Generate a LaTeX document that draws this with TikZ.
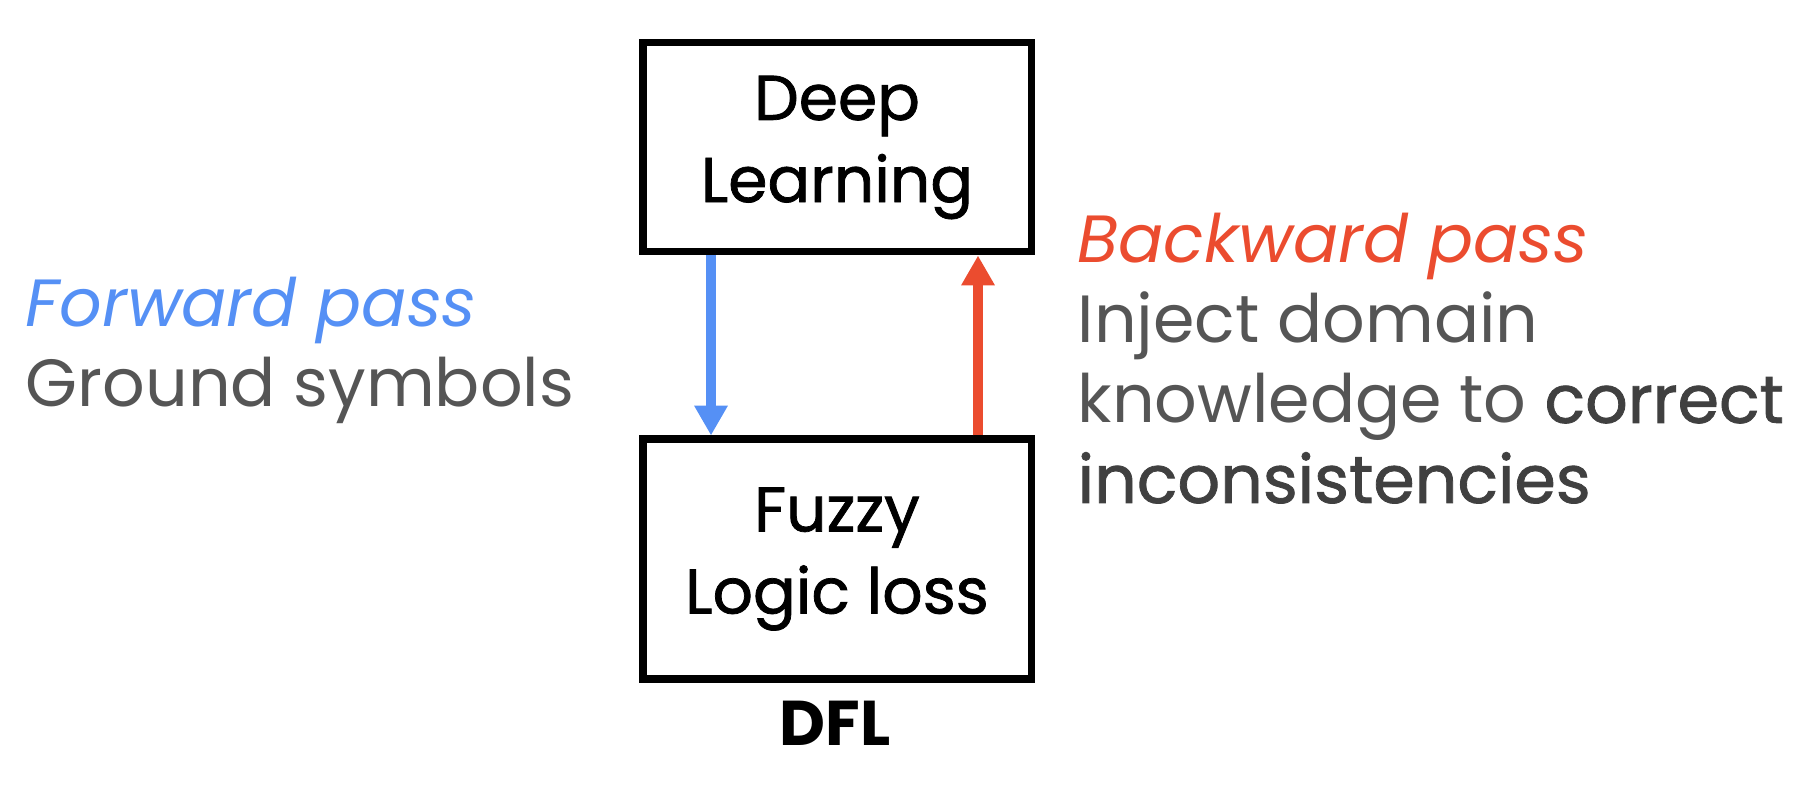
\documentclass[tikz,border=0pt]{standalone}
\usepackage{fontspec}
\setmainfont{Poppins}
\newfontfamily\medfont[FakeBold=1.2]{Poppins}
\usetikzlibrary{arrows.meta}
\definecolor{fwdblue}{HTML}{5590F5}
\definecolor{bwdred}{HTML}{EB4C2F}
\definecolor{txtgray}{HTML}{555555}

\begin{document}
\begin{tikzpicture}[
  block/.style={draw=black, line width=2pt, minimum width=3.88cm, inner sep=0pt, align=center,
    font=\fontsize{18}{21}\selectfont\medfont},
  note/.style={align=left, inner sep=0pt, anchor=base west, text=txtgray,
    font=\fontsize{19}{22.8}\selectfont},
  pass/.style={line width=2.8pt, -{Triangle[width=9pt, length=8.5pt]}}
]
\useasboundingbox (0,0) rectangle (18.13,7.86);

\node[block, minimum height=2.09cm] (deep) at (8.37,6.385) {\raisebox{-1mm}{\shortstack{Deep\\[2pt]Learning}}};
\node[block, minimum height=2.40cm] (fuzzy) at (8.37,2.27) {\raisebox{-0.6mm}{\shortstack{Fuzzy\\[2pt]Logic loss}}};
\node[anchor=base, font=\fontsize{18}{20}\selectfont\bfseries] (dfl) at (8.35,0.40) {DFL};

\coordinate (fwdx) at (7.11,0);
\coordinate (bwdx) at (9.78,0);
\draw[pass, fwdblue] (deep.south -| fwdx) -- (fuzzy.north -| fwdx);
\draw[pass, bwdred] (fuzzy.north -| bwdx) -- (deep.south -| bwdx);

\node[note] (fwd) at (0.25,3.79) {\textcolor{fwdblue}{\itshape Forward pass}\\Ground symbols};
\node[note] (bwd) at (10.77,2.83) {\textcolor{bwdred}{\itshape Backward pass}\\Inject domain\\
  knowledge to {\medfont\color{black!75}correct}\\{\medfont\color{black!75}inconsistencies}};
\end{tikzpicture}
\end{document}
